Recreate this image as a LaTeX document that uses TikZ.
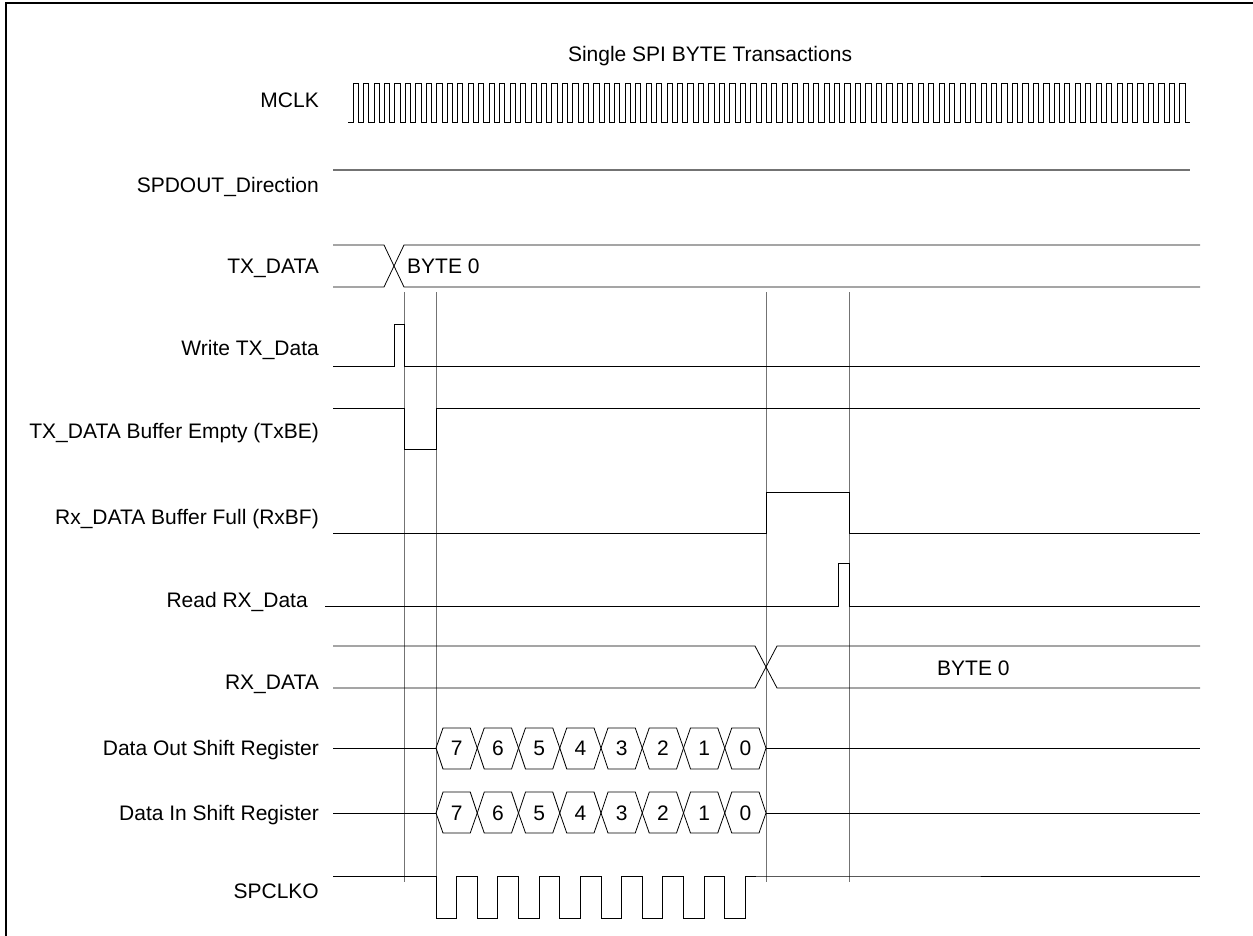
\documentclass[tikz,border=0pt]{standalone}
\usepackage{fontspec}
\setmainfont{Liberation Sans}
\begin{document}
\begin{tikzpicture}[x=1pt,y=-1pt,
  sig/.style={line width=0.8pt,black},
  guide/.style={line width=0.8pt,black!55},
  dirline/.style={line width=1.1pt,black!55},
  lab/.style={anchor=base east,inner sep=0pt,font=\fontsize{21}{24}\selectfont},
  txt/.style={anchor=base west,inner sep=0pt,font=\fontsize{21}{24}\selectfont},
  dig/.style={inner sep=0pt,font=\fontsize{21}{24}\selectfont}]
\useasboundingbox (0,0) rectangle (1253,936);
% frame
\draw[line width=2pt] (6,960) -- (6,3) -- (1270,3);
% title
\node[anchor=base,inner sep=0pt,font=\fontsize{21}{24}\selectfont] (title) at (710,62) {Single SPI BYTE Transactions};
% labels
\node[lab] (lmclk) at (319,108) {MCLK};
\node[lab] (lspd) at (319,193) {SPDOUT\_Direction};
\node[lab] (ltx) at (319,273) {TX\_DATA};
\node[lab] (lwr) at (319,355) {Write TX\_Data};
\node[lab] (ltxbe) at (319,438) {TX\_DATA Buffer Empty (TxBE)};
\node[lab] (lrxbf) at (319,524) {Rx\_DATA Buffer Full (RxBF)};
\node[lab] (lrd) at (308,607) {Read RX\_Data};
\node[lab] (lrx) at (319,689) {RX\_DATA};
\node[lab] (ldo) at (319,755) {Data Out Shift Register};
\node[lab] (ldi) at (319,820) {Data In Shift Register};
\node[lab] (lclk) at (319,898) {SPCLKO};
% MCLK
\draw[sig] (348,122) -- (353,122)
  \foreach \k in {0,...,79}{ -- ({353+\k*10.465},83) -- ({358.23+\k*10.465},83) -- ({358.23+\k*10.465},122) -- ({353+(\k+1)*10.465},122) };
% SPDOUT direction
\draw[dirline] (333,170) -- (1190,170);
% guides
\draw[guide] (404,292) -- (404,882);
\draw[guide] (436,292) -- (436,877);
\draw[guide] (766,292) -- (766,882);
\draw[guide] (849,292) -- (849,882);
% TX_DATA bus
\draw[sig] (333,245) -- (384,245) -- (404,287) -- (1200,287);
\draw[sig] (333,287) -- (384,287) -- (404,245) -- (1200,245);
\node[txt] (txb) at (407,273) {BYTE 0};
% Write TX_Data
\draw[sig] (333,366) -- (394,366) -- (394,324) -- (404,324) -- (404,366) -- (1200,366);
% TxBE
\draw[sig] (333,408) -- (404,408) -- (404,449) -- (436,449) -- (436,408) -- (1200,408);
% RxBF
\draw[sig] (333,533) -- (766,533) -- (766,492) -- (849,492) -- (849,533) -- (1200,533);
% Read RX_Data
\draw[sig] (325,606) -- (838,606) -- (838,563) -- (849,563) -- (849,606) -- (1200,606);
% RX_DATA bus
\draw[sig] (333,646) -- (755,646) -- (777,688) -- (1200,688);
\draw[sig] (333,688) -- (755,688) -- (777,646) -- (1200,646);
\node[txt] (rxb) at (937,675) {BYTE 0};
% shift registers
\draw[sig] (333,748) -- (436,748);
\draw[sig] (766,748) -- (1200,748);
\draw[sig] (333,813) -- (436,813);
\draw[sig] (766,813) -- (1200,813);
\foreach \k/\d in {0/7,1/6,2/5,3/4,4/3,5/2,6/1,7/0}{
  \pgfmathsetmacro{\xa}{436+\k*41.25}
  \pgfmathsetmacro{\xb}{\xa+41.25}
  \draw[sig] (\xa,748) -- (\xa+7,728) -- (\xb-7,728) -- (\xb,748) -- (\xb-7,769) -- (\xa+7,769) -- cycle;
  \node[dig] (do\k) at (\xa+20.6,748) {\d};
  \draw[sig] (\xa,813) -- (\xa+7,792) -- (\xb-7,792) -- (\xb,813) -- (\xb-7,833) -- (\xa+7,833) -- cycle;
  \node[dig] (di\k) at (\xa+20.6,813) {\d};
}
% SPCLKO
\draw[sig] (333,876) -- (436,876)
  \foreach \k in {0,...,7}{ -- ({436+\k*41.25},918) -- ({456.6+\k*41.25},918) -- ({456.6+\k*41.25},876) -- ({477.25+\k*41.25},876) }
  -- (1200,876);
\end{tikzpicture}
\end{document}
